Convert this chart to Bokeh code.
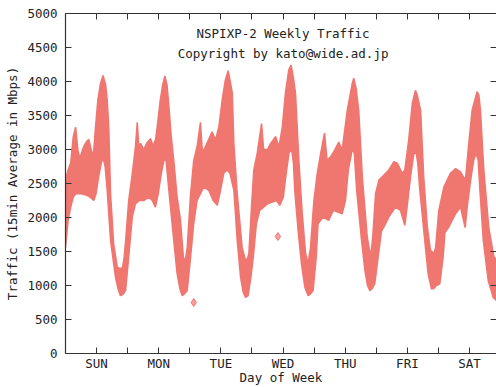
from bokeh.plotting import figure
from bokeh.models import FixedTicker, LinearAxis, Range1d, Label
from bokeh.embed import file_html
from bokeh.resources import INLINE

# ---- data (hours since Sunday 00:00, traffic in Mbps) ----
days = ["SUN", "MON", "TUE", "WED", "THU", "FRI", "SAT"]
y_ticks = [0, 500, 1000, 1500, 2000, 2500, 3000, 3500, 4000, 4500, 5000]

# upper envelope of the 15-min samples
hi_hours = [0, 1, 2, 3, 3.9, 4.8, 5.5, 7, 8, 9, 10, 10.7, 11.5, 12.5, 13.5, 14.5, 15.5, 16.1, 16.7, 17.4,
            18.6, 20.0, 21.0, 22.0, 22.6, 23.2, 23.8, 24.4, 25.8, 27.0, 27.7, 28.3, 29.0, 30.2, 31.5,
            32.8, 33.8, 34.8, 35.4, 36.5, 37.5, 38.4, 39.2, 40.0, 40.8, 41.8, 43.1, 44.4, 45.5, 46.2,
            47.0, 48.3, 49.5, 50.8, 52.1, 52.8, 53.4, 55.3, 56.6, 57.9, 59.2, 60.5, 61.7, 62.8, 63.6,
            64.4, 65.0, 66.3, 68.2, 69.5, 70.3, 70.8, 71.8, 72.7, 74.0, 75.7, 76.5, 78.0, 79.2, 81.1,
            82.4, 83.7, 84.9, 86.2, 87.1, 88.0, 88.8, 90.1, 91.4, 92.7, 93.6, 94.6, 95.9, 97.2, 98.5,
            100.0, 101.0, 102.5, 104.0, 105.5, 106.8, 108.8, 110.7, 111.3, 112.2, 113.2, 114.6, 116.5,
            117.8, 118.6, 119.7, 121.0, 122.3, 124.8, 126.8, 128.1, 130.0, 131.0, 132.5, 133.9, 135.1,
            135.8, 137.1, 138.3, 139.7, 140.9, 142.2, 142.9, 144.1, 146.1, 148.6, 150.6, 152.5, 154.4,
            155.7, 157.0, 158.9, 159.6, 160.2, 161.5, 163.4, 165.4, 166.4]
hi_mbps = [2550, 2700, 2800, 3190, 3330, 2990, 2870, 3040, 3110, 3150, 2990, 2890, 3290, 3730, 3970, 4090, 3950, 3730, 3330, 2350,
           1610, 1270, 1250, 1260, 1400, 1650, 1950, 2250, 2650, 3040, 3400, 3050, 3090, 3000, 3100,
           3160, 3050, 3150, 3330, 3700, 3950, 4080, 3950, 3600, 3200, 2840, 2300, 1960, 1420, 1350,
           1560, 2350, 2840, 3040, 3400, 3000, 2990, 3150, 3260, 3140, 3330, 3730, 4020, 4160, 4000,
           3830, 3090, 2350, 1560, 1370, 1400, 1470, 2150, 2700, 2940, 3380, 3000, 3000, 3090, 3190,
           3040, 3330, 3830, 4170, 4240, 4050, 3830, 2840, 2060, 1470, 1320, 1560, 2250, 2650, 2940,
           3240, 2840, 2900, 3000, 3110, 2990, 3580, 3970, 4050, 3900, 3580, 2600, 1710,
           1420, 1700, 2350, 2550, 2600, 2700, 2820, 2800, 2650, 2700, 3140, 3680, 3870,
           3800, 3580, 2600, 1860, 1520, 1470, 1560, 2100, 2450, 2650, 2720, 2670, 2550,
           3090, 3580, 3850, 3800, 3580, 2700, 1860, 1420, 1380]

# lower envelope of the 15-min samples
lo_hours = [0, 1, 2, 3, 4, 6, 8, 9.5, 10.9, 11.8, 12.8, 13.8, 14.5, 15.3, 16.1, 17.4, 19.3, 20.3, 21.2, 22.2,
            23.2, 24.4, 25.8, 27.0, 28.5, 30.2, 32.2, 33.5, 34.7, 35.8, 37.0, 38.0, 38.8, 39.9, 41.8,
            43.1, 44.3, 45.1, 46.0, 47.0, 48.3, 49.5, 50.8, 52.1, 53.4, 55.3, 57.0, 58.6, 59.6, 61.1,
            62.4, 63.5, 65.0, 66.3, 67.6, 68.6, 69.5, 70.5, 71.5, 72.5, 73.7, 75.0, 78.0, 81.5, 82.7,
            84.1, 85.2, 86.3, 87.3, 88.0, 88.5, 89.8, 91.1, 92.4, 93.7, 94.7, 95.6, 96.8, 97.5, 99.5,
            101.6, 103.4, 106.8, 108.1, 109.2, 110.7, 111.5, 112.4, 114.3, 115.6, 116.6, 117.5, 118.5,
            119.4, 120.7, 122.0, 122.9, 124.8, 127.4, 129.3, 131.0, 131.9, 133.2, 134.5, 135.4, 136.0,
            136.8, 138.7, 140.0, 141.3, 142.3, 143.2, 144.5, 145.8, 146.5, 148.0, 150.6, 152.5, 154.3,
            155.1, 156.4, 157.6, 158.5, 159.3, 160.0, 161.3, 163.2, 165.1, 166.4]
lo_mbps = [1560, 1950, 2150, 2300, 2350, 2350, 2330, 2300, 2250, 2350, 2600, 2800, 2880, 2750, 2400, 1660, 1120, 950, 850, 870,
           925, 1420, 2010, 2200, 2250, 2250, 2300, 2250, 2150, 2350, 2650, 2840, 2850, 2400, 1660,
           1170, 930, 850, 880, 925, 1420, 1910, 2250, 2350, 2450, 2400, 2250, 2180, 2350, 2650,
           2700, 2650, 2400, 1660, 1120, 900, 826, 850, 1100, 1416, 1908, 2105, 2200, 2250, 2178,
           2300, 2650, 2950, 3000, 2800, 2400, 1810, 1318, 974, 851, 880, 925, 1416, 1908, 2006,
           1957, 2105, 2056, 2250, 2700, 3000, 2950, 2400, 1662, 1220, 1000, 925, 960,
           1023, 1416, 1800, 1858, 2006, 2154, 2105, 1884, 2154, 2596, 2941, 2950, 2800,
           2400, 1662, 1171, 949, 960, 1000, 1023, 1416, 1780, 1860, 2056, 2154, 1850,
           2154, 2547, 2842, 2940, 2850, 2400, 1662, 1072, 826, 780]

# isolated samples
outlier_hours = [49.5, 82.0]
outlier_mbps = [750, 1720]

# ---- styling ----
FONT = "DejaVu Sans Mono"
FS = "12.5px"
DOT = "#F07670"
AXIS = "#333333"
TXT = "#222222"

day_ticks = []
overrides = {}
for k, d in enumerate(days):
    day_ticks.append(24 * k + 12)
    overrides[24 * k + 12] = d
    if k < len(days) - 1:
        day_ticks.append(24 * (k + 1))
        overrides[24 * (k + 1)] = ""
day_ticks.sort()

p = figure(width=496, height=387, output_backend="svg", toolbar_location=None,
           x_range=Range1d(0, 166.4), y_range=Range1d(0, 5000),
           min_border_left=65, min_border_right=0, min_border_top=13, min_border_bottom=34,
           background_fill_color="white", border_fill_color="white")
p.outline_line_color = None
p.xgrid.visible = False
p.ygrid.visible = False

xs = hi_hours + lo_hours[::-1]
ys = hi_mbps + lo_mbps[::-1]
p.patch(x=xs, y=ys, fill_color=DOT, line_color=DOT, line_width=1.5)
p.scatter(x=outlier_hours, y=outlier_mbps, marker="diamond", size=8,
          fill_color="#F4A29E", line_color=DOT, line_width=1)

def style_axis(ax):
    ax.axis_line_color = AXIS
    ax.axis_line_width = 1.2
    ax.major_tick_line_color = AXIS
    ax.major_tick_in = 6
    ax.major_tick_out = 0
    ax.minor_tick_line_color = None
    ax.major_label_text_font = FONT
    ax.major_label_text_font_size = FS
    ax.major_label_text_color = TXT
    ax.major_label_text_line_height = 1.0
    ax.axis_label_text_font = FONT
    ax.axis_label_text_font_size = FS
    ax.axis_label_text_font_style = "normal"
    ax.axis_label_text_color = TXT
    ax.axis_label_text_line_height = 1.0

xa = p.xaxis[0]
style_axis(xa)
xa.ticker = FixedTicker(ticks=day_ticks)
xa.major_label_overrides = overrides
xa.major_label_standoff = 2
xa.axis_label = "Day of Week"
xa.axis_label_standoff = -4

ya = p.yaxis[0]
style_axis(ya)
ya.ticker = FixedTicker(ticks=y_ticks)
ya.major_label_standoff = 8
ya.axis_label = "Traffic (15min Average in Mbps)"
ya.axis_label_standoff = 4

top = LinearAxis(ticker=FixedTicker(ticks=day_ticks))
style_axis(top)
top.major_label_overrides = {t: "" for t in day_ticks}
top.major_label_text_font_size = "1px"
top.major_label_standoff = 0
p.add_layout(top, "above")

right = LinearAxis(ticker=FixedTicker(ticks=y_ticks))
style_axis(right)
right.axis_line_color = None
right.major_label_overrides = {t: "" for t in y_ticks}
right.major_label_text_font_size = "1px"
right.major_label_standoff = 0
p.add_layout(right, "right")

p.add_layout(Label(x=84, y=4700, text="NSPIXP-2 Weekly Traffic", text_align="center",
                   text_baseline="middle", text_font=FONT, text_font_size=FS, text_color=TXT))
p.add_layout(Label(x=84, y=4410, text="Copyright by kato@wide.ad.jp", text_align="center",
                   text_baseline="middle", text_font=FONT, text_font_size=FS, text_color=TXT))

open("out.html", "w").write(file_html(p, INLINE))
